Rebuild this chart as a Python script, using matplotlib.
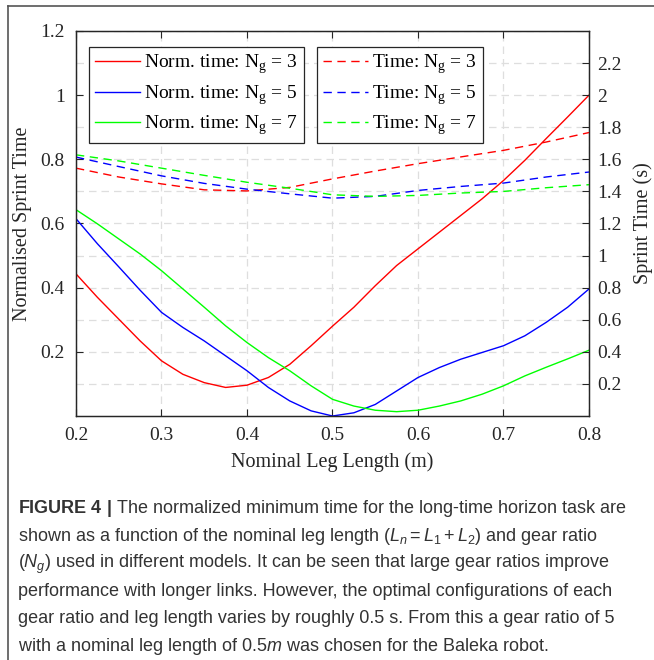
import numpy as np
import matplotlib
matplotlib.use("Agg")
import matplotlib.pyplot as plt
from matplotlib.lines import Line2D

plt.rcParams['font.family'] = ['Liberation Serif', 'DejaVu Serif']
plt.rcParams['mathtext.fontset'] = 'custom'
plt.rcParams['mathtext.rm'] = 'Liberation Sans'
plt.rcParams['mathtext.it'] = 'Liberation Sans:italic'
plt.rcParams['mathtext.bf'] = 'Liberation Sans:bold'

# Nominal leg length (m) for the normalised curves
leg_length_fine = [0.2, 0.225, 0.25, 0.275, 0.3, 0.325, 0.35, 0.375, 0.4, 0.425, 0.45,
                   0.475, 0.5, 0.525, 0.55, 0.575, 0.6, 0.625, 0.65, 0.675, 0.7,
                   0.725, 0.75, 0.775, 0.8]

# Normalised sprint time (left axis)
norm_ng3 = [0.443, 0.37, 0.302, 0.234, 0.172, 0.13, 0.104, 0.089, 0.096, 0.12, 0.161,
            0.219, 0.28, 0.339, 0.406, 0.469, 0.521, 0.573, 0.625, 0.677, 0.734,
            0.797, 0.865, 0.932, 1.0]
norm_ng5 = [0.615, 0.537, 0.465, 0.392, 0.323, 0.276, 0.234, 0.1875, 0.141, 0.089, 0.047,
            0.016, 0.0, 0.01, 0.036, 0.078, 0.12, 0.151, 0.177, 0.198, 0.219,
            0.25, 0.292, 0.339, 0.396]
norm_ng7 = [0.643, 0.599, 0.552, 0.505, 0.453, 0.396, 0.339, 0.281, 0.229, 0.182, 0.141,
            0.094, 0.052, 0.031, 0.018, 0.0135, 0.018, 0.031, 0.047, 0.068, 0.094,
            0.125, 0.152, 0.178, 0.205]

# Nominal leg length (m) for the time curves
leg_length = [0.2, 0.25, 0.3, 0.35, 0.4, 0.45, 0.5, 0.55, 0.6, 0.65, 0.7, 0.75, 0.8]

# Sprint time in seconds (right axis)
time_ng3 = [1.545, 1.49, 1.447, 1.41, 1.403, 1.425, 1.478, 1.527, 1.573, 1.615, 1.656, 1.708, 1.767]
time_ng5 = [1.614, 1.555, 1.497, 1.45, 1.414, 1.385, 1.358, 1.369, 1.406, 1.431, 1.452, 1.49, 1.521]
time_ng7 = [1.628, 1.59, 1.545, 1.5, 1.457, 1.42, 1.379, 1.369, 1.375, 1.39, 1.40, 1.423, 1.442]

gear_ratios = [3, 5, 7]
colors = ['#ff0000', '#0000ff', '#00ff00']

x_ticks = [0.2, 0.3, 0.4, 0.5, 0.6, 0.7, 0.8]
left_ticks = [0.2, 0.4, 0.6, 0.8, 1.0, 1.2]
left_labels = ['0.2', '0.4', '0.6', '0.8', '1', '1.2']
right_ticks = [0.2, 0.4, 0.6, 0.8, 1.0, 1.2, 1.4, 1.6, 1.8, 2.0, 2.2]
right_labels = ['0.2', '0.4', '0.6', '0.8', '1', '1.2', '1.4', '1.6', '1.8', '2', '2.2']

axis_col = '#262626'
fs = 14

fig = plt.figure(figsize=(6.54, 6.60), dpi=100)
ax = fig.add_axes([76/654, 1-416/660, (589-76)/654, (416-31)/660])
ax2 = ax.twinx()

# grid (dashed, light) at every 0.1 on the left scale
ax.set_yticks(left_ticks)
ax.set_yticks([0.1, 0.3, 0.5, 0.7, 0.9, 1.1], minor=True)
ax.grid(True, which='both', color='#dedede', linestyle=(0, (6, 4)), linewidth=0.9)
ax.set_axisbelow(True)

norm_sets = [norm_ng3, norm_ng5, norm_ng7]
time_sets = [time_ng3, time_ng5, time_ng7]
norm_handles = []
time_handles = []
for ng, c, yn, yt in zip(gear_ratios, colors, norm_sets, time_sets):
    h, = ax.plot(leg_length_fine, yn, color=c, lw=1.0,
                 label=r'Norm. time: N$_\mathregular{g}$ = %d' % ng)
    norm_handles.append(h)
    h2, = ax2.plot(leg_length, yt, color=c, lw=1.0, linestyle=(0, (6, 4)),
                   label=r'Time: N$_\mathregular{g}$ = %d' % ng)
    time_handles.append(h2)

ax.set_xlim(0.2, 0.8)
ax.set_ylim(0, 1.2)
ax2.set_ylim(0, 2.4)
ax.set_xticks(x_ticks)
ax.set_xticklabels([str(v) for v in x_ticks])
ax.set_yticklabels(left_labels)
ax2.set_yticks(right_ticks)
ax2.set_yticklabels(right_labels)

ax.tick_params(axis='both', which='major', direction='in', length=5, width=0.8,
               colors=axis_col, labelsize=fs, top=True, pad=8)
ax.tick_params(axis='y', which='minor', length=0)
ax2.tick_params(axis='y', direction='in', length=5, width=0.8, colors=axis_col,
                labelsize=fs, pad=6)
for a in (ax, ax2):
    for s in a.spines.values():
        s.set_color(axis_col)
        s.set_linewidth(0.9)

ax.set_xlabel('Nominal Leg Length (m)', fontsize=fs + 0.5, color=axis_col, labelpad=6)
ax.set_ylabel('Normalised Sprint Time', fontsize=fs + 0.5, color=axis_col, labelpad=6)
ax2.set_ylabel('Sprint Time (s)', fontsize=fs + 0.5, color=axis_col, labelpad=8)

leg_kw = dict(fontsize=fs, frameon=True, fancybox=False, framealpha=1,
              edgecolor=axis_col, handlelength=2.3, handletextpad=0.25,
              borderpad=0.3, labelspacing=0.38, borderaxespad=0,
              loc='upper left', bbox_transform=fig.transFigure)
leg1 = ax2.legend(handles=norm_handles, bbox_to_anchor=(89/654, 1-47/660), **leg_kw)
leg1.get_frame().set_linewidth(0.9)
ax2.add_artist(leg1)
leg2 = ax2.legend(handles=time_handles, bbox_to_anchor=(317/654, 1-47/660), **leg_kw)
leg2.get_frame().set_linewidth(0.9)

# figure frame lines (top and left)
fig.add_artist(Line2D([8/654, 1], [1-6/660, 1-6/660], transform=fig.transFigure,
                      color='#555555', lw=1.2))
fig.add_artist(Line2D([8/654, 8/654], [0, 1-6/660], transform=fig.transFigure,
                      color='#555555', lw=1.2))

caption_lines = [
    r'$\mathbf{FIGURE\ 4\ |}$ The normalized minimum time for the long-time horizon task are',
    r'shown as a function of the nominal leg length ($L_n = L_1 + L_2$) and gear ratio',
    r'($N_g$) used in different models. It can be seen that large gear ratios improve',
    r'performance with longer links. However, the optimal configurations of each',
    r'gear ratio and leg length varies by roughly 0.5 s. From this a gear ratio of 5',
    r'with a nominal leg length of 0.5$m$ was chosen for the Baleka robot.',
]
line_y = [513, 541, 568, 596, 623, 651]
for txt, yy in zip(caption_lines, line_y):
    fig.text(18/654, 1-yy/660, txt, family=['Liberation Sans', 'DejaVu Sans'],
             fontsize=13, color='#333333', va='baseline', ha='left')

fig.savefig('out.png', dpi=100)
